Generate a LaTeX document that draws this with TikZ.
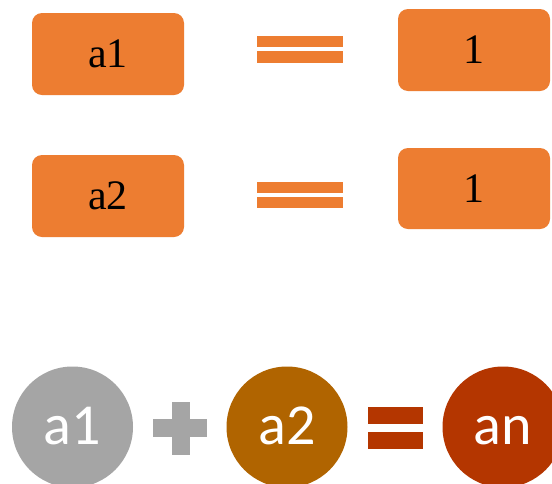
\documentclass[tikz,border=0pt]{standalone}
\usepackage{fontspec}
\setmainfont{Liberation Serif}
\newfontfamily\calib{Carlito}
\usepackage{tikz}
\definecolor{tileorange}{HTML}{ED7D31}
\definecolor{discgray}{HTML}{A5A5A5}
\definecolor{discbrown}{HTML}{B06400}
\definecolor{discred}{HTML}{B43600}
\tikzstyle{tile}=[rectangle, rounded corners=10pt, fill=tileorange, minimum width=152pt, minimum height=82pt, inner sep=0pt, font=\fontsize{42}{42}\selectfont]
\tikzstyle{disc}=[circle, minimum size=121pt, inner sep=0pt, text=white, text height=34pt, text depth=0pt, font=\calib\fontsize{58}{58}\selectfont]

\begin{document}
\begin{tikzpicture}[x=1pt, y=-1pt]
                    \clip (0, 0) rectangle (552, 483);
                    \fill[white] (0, 0) rectangle (552, 483);
                    \node[tile] (a1) at (108, 54) {a1};
                    \node[tile] (one1) at (474, 50) {1};
                    \node[tile] (a2) at (108, 196) {a2};
                    \node[tile, minimum height=81pt] (one2) at (474, 188.5) {1};
                    \fill[tileorange] (257, 36) rectangle (343, 47);
                    \fill[tileorange] (257, 51) rectangle (343, 63);
                    \fill[tileorange] (257, 182) rectangle (343, 193);
                    \fill[tileorange] (257, 197) rectangle (343, 208);
                    \node[disc, fill=discgray] (s1) at (72.5, 427) {a1};
                    \node[disc, fill=discbrown] (s2) at (287, 427) {a2};
                    \node[disc, fill=discred] (sn) at (503, 427) {an};
                    \fill[discgray] (153, 419) rectangle (207, 437);
                    \fill[discgray] (172, 402) rectangle (190, 455);
                    \fill[discred] (368, 407) rectangle (423, 424);
                    \fill[discred] (368, 432) rectangle (423, 449);
                \end{tikzpicture}
\end{document}
